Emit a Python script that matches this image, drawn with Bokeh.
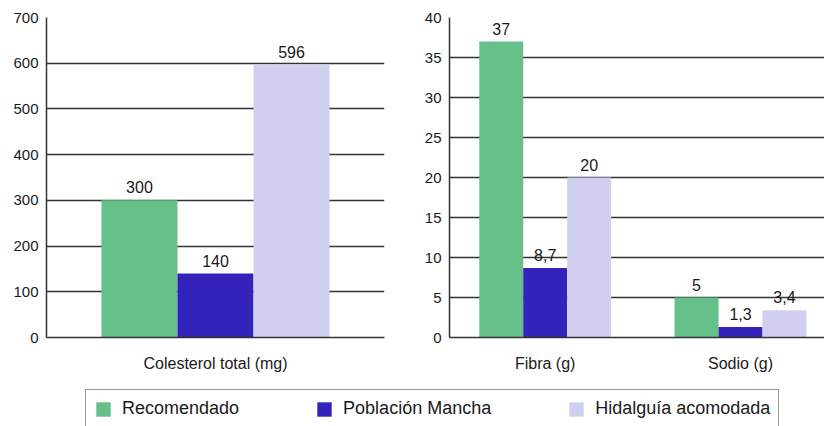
from bokeh.plotting import figure
from bokeh.models import Range1d, FixedTicker, ColumnDataSource, Legend, LegendItem
from bokeh.layouts import row, column
from bokeh.embed import file_html
from bokeh.resources import INLINE
from bokeh.core.properties import value

# Series shown in every panel
series_names = ["Recomendado", "Población Mancha", "Hidalguía acomodada"]
series_colors = ["#66c08a", "#3323ba", "#d0cff0"]

# Cholesterol panel
chol_categories = ["Colesterol total (mg)"]
chol_recomendado = [300]
chol_poblacion = [140]
chol_hidalguia = [596]
chol_ticks = [0, 100, 200, 300, 400, 500, 600, 700]

# Fibre / sodium panel
nut_categories = ["Fibra (g)", "Sodio (g)"]
nut_recomendado = [37, 5]
nut_poblacion = [8.7, 1.3]
nut_hidalguia = [20, 3.4]
nut_ticks = [0, 5, 10, 15, 20, 25, 30, 35, 40]

FONT = "Liberation Sans"
INK = "#1a1a1a"
RULE = "#333333"
BAR_W = 0.225


def fmt(v):
    # Spanish decimal comma
    return f"{v:g}".replace(".", ",")


def make_panel(categories, series_values, ticks, x_range, width, border_left, border_right):
    p = figure(width=width, height=380, output_backend="svg", toolbar_location=None,
               x_range=x_range, y_range=Range1d(ticks[0], ticks[-1]),
               min_border_left=border_left, min_border_right=border_right,
               min_border_top=17, min_border_bottom=43)
    p.outline_line_color = None
    p.background_fill_color = "white"
    p.border_fill_color = "white"

    idx = list(range(len(categories)))
    offsets = [-BAR_W, 0.0, BAR_W]
    for vals, color, off in zip(series_values, series_colors, offsets):
        src = ColumnDataSource(dict(
            x=[i + off for i in idx],
            top=vals,
            label=[fmt(v) for v in vals],
        ))
        p.vbar(x="x", top="top", width=BAR_W, source=src,
               fill_color=color, line_color=None)
        p.text(x="x", y="top", text="label", source=src,
               text_align="center", text_baseline="bottom", y_offset=-7,
               text_font=value(FONT), text_font_size="16px", text_color=INK)

    p.xgrid.visible = False
    p.ygrid.ticker = FixedTicker(ticks=ticks)
    p.ygrid.grid_line_color = RULE
    p.ygrid.grid_line_width = 1.5

    p.yaxis.ticker = FixedTicker(ticks=ticks)
    p.xaxis.ticker = FixedTicker(ticks=idx)
    p.xaxis.major_label_overrides = {i: c for i, c in zip(idx, categories)}
    for ax in (p.xaxis, p.yaxis):
        ax.major_tick_out = 0
        ax.major_tick_in = 0
        ax.minor_tick_out = 0
        ax.minor_tick_in = 0
        ax.axis_line_color = RULE
        ax.axis_line_width = 1.5
        ax.major_label_text_font = FONT
        ax.major_label_text_color = INK
    p.yaxis.major_label_text_font_size = "15px"
    p.xaxis.major_label_text_font_size = "16px"
    p.yaxis.major_label_standoff = 8
    p.xaxis.major_label_standoff = 17
    return p


p1 = make_panel(chol_categories, [chol_recomendado, chol_poblacion, chol_hidalguia],
                chol_ticks, Range1d(-0.5, 0.5), 412, 46, 28)
p2 = make_panel(nut_categories, [nut_recomendado, nut_poblacion, nut_hidalguia],
                nut_ticks, Range1d(-0.49, 1.43), 412, 37, 0)

# Shared legend strip underneath both panels; the swatch renderers hold
# zero-height bars so only their legend glyphs show
lf = figure(width=824, height=46, output_backend="svg", toolbar_location=None,
            x_axis_type=None, y_axis_type=None, x_range=Range1d(0, 1), y_range=Range1d(0, 1),
            min_border=0)
lf.outline_line_color = None
lf.grid.visible = False
items = []
for name, color in zip(series_names, series_colors):
    r = lf.vbar(x=[0], top=[0], width=0.1, fill_color=color, line_color=None)
    items.append(LegendItem(label=name, renderers=[r]))
legend = Legend(items=items, orientation="horizontal", location=(85, -2), margin=0,
                padding=8, spacing=76, glyph_width=18, glyph_height=18, label_standoff=10,
                label_text_font=FONT, label_text_font_size="18px", label_text_color=INK,
                border_line_color=RULE, border_line_width=1.5, background_fill_color="white")
lf.add_layout(legend)

layout = column(row(p1, p2, spacing=0), lf, spacing=0)

open("out.html", "w").write(file_html(layout, INLINE))
